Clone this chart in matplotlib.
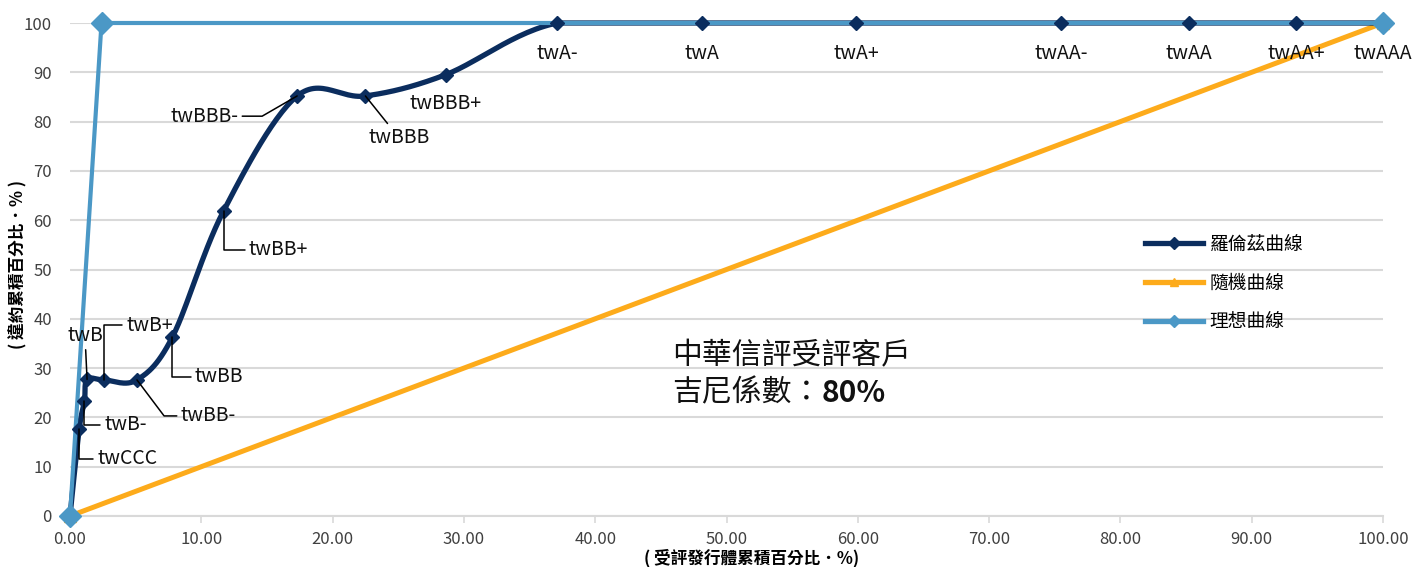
import matplotlib
matplotlib.use("Agg")
import matplotlib.pyplot as plt
import numpy as np
from matplotlib.lines import Line2D

plt.rcParams["font.family"] = ["Noto Sans CJK TC", "DejaVu Sans"]

# Lorenz curve points (cumulative % of rated issuers, cumulative % of defaults)
grades = ["", "twCCC", "twB-", "twB", "twB+", "twBB-", "twBB", "twBB+", "twBBB-",
          "twBBB", "twBBB+", "twA-", "twA", "twA+", "twAA-", "twAA", "twAA+", "twAAA"]
lorenz_x = [0, 0.7, 1.1, 1.3, 2.6, 5.1, 7.8, 11.7, 17.3, 22.5, 28.6, 37.1, 48.1, 59.9, 75.5, 85.2, 93.4, 100]
lorenz_y = [0, 17.6, 23.3, 27.7, 27.6, 27.6, 36.3, 61.9, 85.2, 85.2, 89.5, 100, 100, 100, 100, 100, 100, 100]

random_x = [0, 100]
random_y = [0, 100]

ideal_x = [0, 2.4, 100]
ideal_y = [0, 100, 100]

x_ticks = [0, 10, 20, 30, 40, 50, 60, 70, 80, 90, 100]
y_ticks = [0, 10, 20, 30, 40, 50, 60, 70, 80, 90, 100]

NAVY = "#0b2d5e"
ORANGE = "#fdab1b"
LIGHTBLUE = "#4b98c6"
GRID = "#d9d9d9"


def smooth(xs, ys, n=30):
    # Excel-like smoothed line: uniform Catmull-Rom through the points
    p = np.column_stack([xs, ys]).astype(float)
    p = np.vstack([p[0], p, p[-1]])
    out = []
    t = np.linspace(0, 1, n)[:, None]
    for i in range(1, len(p) - 2):
        p0, p1, p2, p3 = p[i - 1], p[i], p[i + 1], p[i + 2]
        c1 = p1 + (p2 - p0) / 6
        c2 = p2 - (p3 - p1) / 6
        seg = ((1 - t) ** 3) * p1 + 3 * ((1 - t) ** 2) * t * c1 + 3 * (1 - t) * t ** 2 * c2 + t ** 3 * p2
        out.append(seg if i == 1 else seg[1:])
    out = np.vstack(out)
    return out[:, 0], np.minimum(out[:, 1], 100)


fig = plt.figure(figsize=(14.12, 5.67), dpi=100)
ax = fig.add_axes([70 / 1412, 1 - 516 / 567, 1313 / 1412, 493 / 567])

ax.set_xlim(0, 100)
ax.set_ylim(0, 100)

# random curve
ax.plot(random_x, random_y, color=ORANGE, lw=3.6, marker="^", ms=9, zorder=2, clip_on=False)

# lorenz curve (line, then markers above the ideal line)
sx, sy = smooth(lorenz_x, lorenz_y)
ax.plot(sx, sy, color=NAVY, lw=3.8, zorder=3, clip_on=False, solid_capstyle="round")

# ideal curve
ax.plot(ideal_x, ideal_y, color=LIGHTBLUE, lw=3.0, zorder=4, clip_on=False)
ax.plot(lorenz_x, lorenz_y, ls="none", marker="D", ms=7, color=NAVY, zorder=5, clip_on=False)
ax.plot(ideal_x, ideal_y, ls="none", marker="D", ms=11, color=LIGHTBLUE, zorder=6, clip_on=False)

# data labels: (text x, text y, ha, connection style or None)
label_pos = {
    "twCCC": (2.06, 11.6, "left", "angle,angleA=0,angleB=90,rad=0"),
    "twB-": (2.59, 18.5, "left", "angle,angleA=0,angleB=90,rad=0"),
    "twB": (1.14, 36.7, "center", "arc3,rad=0"),
    "twB+": (4.27, 38.7, "left", "angle,angleA=0,angleB=90,rad=0"),
    "twBB-": (8.45, 20.3, "left", "angle,angleA=0,angleB=127,rad=0"),
    "twBB": (9.52, 28.2, "left", "angle,angleA=0,angleB=90,rad=0"),
    "twBB+": (13.63, 54.0, "left", "angle,angleA=0,angleB=90,rad=0"),
    "twBBB-": (12.8, 81.1, "right", "angle,angleA=0,angleB=30,rad=0"),
    "twBBB": (25.06, 76.7, "center", "arc3,rad=0"),
    "twBBB+": (28.6, 83.6, "center", None),
}
for g, x, y in zip(grades, lorenz_x, lorenz_y):
    if not g:
        continue
    if g in label_pos:
        tx, ty, ha, conn = label_pos[g]
    else:
        tx, ty, ha, conn = x, 93.8, "center", None
    arrow = None
    if conn:
        arrow = dict(arrowstyle="-", connectionstyle=conn, color="black", lw=1.1,
                     shrinkA=1, shrinkB=0)
    ax.annotate(g, xy=(x, y), xytext=(tx, ty), ha=ha, va="center", fontsize=14,
                color="#111111", arrowprops=arrow, zorder=7)

# axes styling
for s in ["left", "right", "top"]:
    ax.spines[s].set_visible(False)
ax.spines["bottom"].set_color(GRID)
ax.spines["bottom"].set_linewidth(1.5)
ax.spines["bottom"].set_zorder(1)
ax.set_yticks(y_ticks)
ax.set_xticks(x_ticks)
ax.set_xticklabels([f"{v:.2f}" for v in x_ticks])
ax.yaxis.grid(True, color=GRID, lw=1.5, zorder=0)
ax.set_axisbelow(True)
ax.tick_params(axis="y", length=0, pad=13, labelsize=12, labelcolor="#404040")
ax.tick_params(axis="x", length=5, width=1.2, color=GRID, pad=6, labelsize=12, labelcolor="#404040")

ax.set_xlabel("( 受評發行體累積百分比．%)", fontsize=12, fontweight="bold", va="center")
ax.xaxis.set_label_coords(0.519, -42 / 493)
ax.set_ylabel("( 違約累積百分比．% )", fontsize=12, fontweight="bold", va="center")
ax.yaxis.set_label_coords(-52 / 1313, 0.51)

# gini annotation
t1 = ax.text(45.85, 32.6, "中華信評受評客戶", fontsize=21.5, va="center", ha="left", color="#111111")
t2 = ax.text(45.85, 24.9, "吉尼係數：", fontsize=21.5, va="center", ha="left", color="#111111")
ax.annotate("80%", xy=(1, 0.5), xycoords=t2, va="center", ha="left", fontsize=21.5,
            fontweight="bold", color="#111111")

# legend
handles = [
    Line2D([], [], color=NAVY, lw=3.8, marker="D", ms=6),
    Line2D([], [], color=ORANGE, lw=3.8, marker="^", ms=6),
    Line2D([], [], color=LIGHTBLUE, lw=3.8, marker="D", ms=6),
]
ax.legend(handles, ["羅倫茲曲線", "隨機曲線", "理想曲線"], loc="upper left",
          bbox_to_anchor=(1128 / 1412, 1 - 217 / 567), bbox_transform=fig.transFigure,
          frameon=False, fontsize=13.5, handlelength=3.1, handletextpad=0.35, labelspacing=0.95)

fig.savefig("out.png", dpi=100)
